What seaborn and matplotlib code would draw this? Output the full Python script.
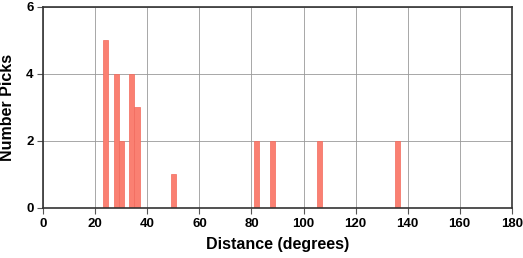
import numpy as np
import pandas as pd
import matplotlib
matplotlib.use("Agg")
import matplotlib.pyplot as plt
import seaborn as sns

# Data (bin centres in degrees, counts)
distance_centers = [24, 28, 30, 34, 36, 50, 82, 88, 106, 136]
pick_counts = [5, 4, 2, 4, 3, 1, 2, 2, 2, 2]
x_ticks = [0, 20, 40, 60, 80, 100, 120, 140, 160, 180]
y_ticks = [0, 2, 4, 6]

sns.set_style("white")
plt.rcParams['font.family'] = ['Liberation Sans', 'DejaVu Sans']
plt.rcParams['text.color'] = 'black'
plt.rcParams['axes.labelcolor'] = 'black'
plt.rcParams['xtick.labelcolor'] = 'black'
plt.rcParams['ytick.labelcolor'] = 'black'

df = pd.DataFrame({"distance": distance_centers, "count": pick_counts})

fig = plt.figure(figsize=(5.23, 2.58), dpi=100)
ax = fig.add_axes([0.0828, 0.194, 0.8956, 0.779])

sns.histplot(data=df, x="distance", weights="count", binwidth=2, binrange=(1, 179),
             color="#FA8072", alpha=1.0, edgecolor="#F26A5C", linewidth=0.5, ax=ax)

ax.set_xlim(0, 180)
ax.set_ylim(0, 6)
ax.set_xticks(x_ticks)
ax.set_yticks(y_ticks)
ax.grid(True, color="#999999", linewidth=0.6)
ax.set_axisbelow(True)
for s in ax.spines.values():
    s.set_color("#333333")
    s.set_linewidth(1.2)
ax.tick_params(axis="both", direction="out", length=4, width=0.8, color="#555555",
               labelsize=9.5, pad=3, bottom=True, left=True, labelcolor="black")
for lab in ax.get_xticklabels() + ax.get_yticklabels():
    lab.set_fontweight("bold")
ax.set_xlabel("Distance (degrees)", fontsize=11.5, fontweight="bold", labelpad=5, color="black")
ax.set_ylabel("Number Picks", fontsize=11.5, fontweight="bold", labelpad=8, color="black")

fig.savefig("out.png", dpi=100)
